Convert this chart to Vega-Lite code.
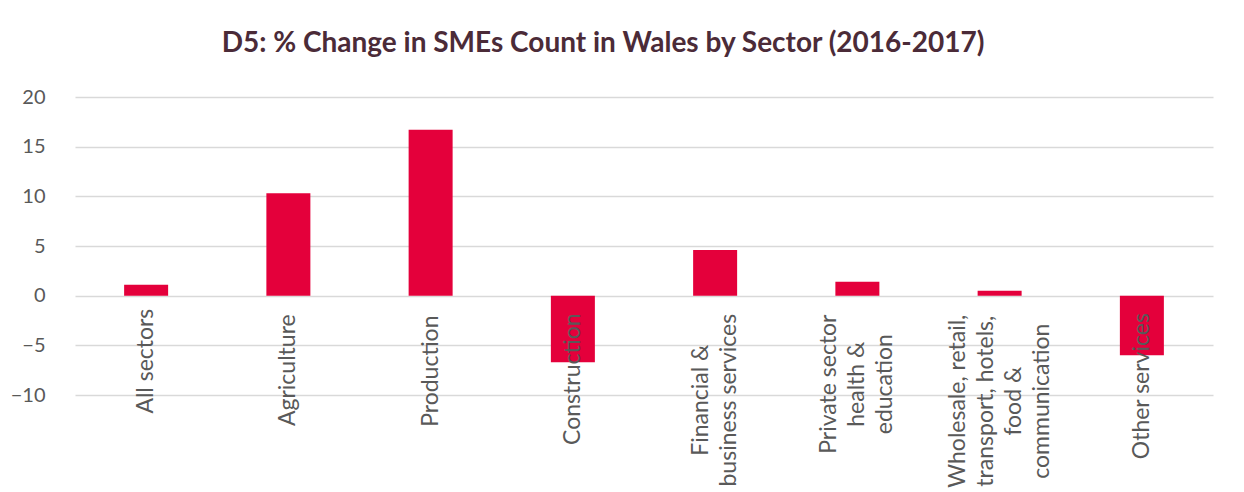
{
  "$schema": "https://vega.github.io/schema/vega-lite/v6.json",
  "autosize": "none",
  "width": 1138,
  "height": 298,
  "padding": {"left": 75, "top": 97, "right": 31, "bottom": 97},
  "background": "white",
  "title": {
    "text": "D5: % Change in SMEs Count in Wales by Sector (2016-2017)",
    "font": "Lato",
    "fontSize": 28,
    "fontWeight": "bold",
    "color": "#4B2B38",
    "anchor": "middle",
    "dx": -41,
    "offset": 29
  },
  "data": {
    "values": [
      {"sector": "All sectors", "change": 1.1},
      {"sector": "Agriculture", "change": 10.3},
      {"sector": "Production", "change": 16.7},
      {"sector": "Construction", "change": -6.7},
      {"sector": "Financial &\nbusiness services", "change": 4.6},
      {"sector": "Private sector\nhealth &\neducation", "change": 1.4},
      {"sector": "Wholesale, retail,\ntransport, hotels,\nfood &\ncommunication", "change": 0.5},
      {"sector": "Other services", "change": -6.0}
    ]
  },
  "mark": {"type": "bar", "color": "#E4003B", "width": 44},
  "encoding": {
    "x": {
      "field": "sector",
      "type": "nominal",
      "sort": null,
      "scale": {"paddingInner": 0, "paddingOuter": 0},
      "axis": {
        "title": null,
        "orient": "bottom",
        "offset": -99.33,
        "domain": false,
        "ticks": false,
        "labelAngle": -90,
        "labelAlign": "center",
        "labelBaseline": "middle",
        "labelPadding": {
          "condition": [
            {"test": "indexof(datum.value, 'All sectors') == 0", "value": 65},
            {"test": "indexof(datum.value, 'Agriculture') == 0", "value": 74},
            {"test": "indexof(datum.value, 'Production') == 0", "value": 75},
            {"test": "indexof(datum.value, 'Construction') == 0", "value": 83},
            {"test": "indexof(datum.value, 'Financial') == 0", "value": 104},
            {"test": "indexof(datum.value, 'Private') == 0", "value": 88},
            {"test": "indexof(datum.value, 'Wholesale') == 0", "value": 105},
            {"test": "indexof(datum.value, 'Other') == 0", "value": 90}
          ],
          "value": 70
        },
        "labelFont": "Lato",
        "labelFontSize": 23,
        "labelColor": "#595959",
        "labelLineHeight": 28,
        "labelExpr": "split(datum.label, '\\n')",
        "labelOffset": {
          "condition": [
            {"test": "length(split(datum.value, '\\n')) == 2", "value": -14},
            {"test": "length(split(datum.value, '\\n')) == 3", "value": -28},
            {"test": "length(split(datum.value, '\\n')) == 4", "value": -42}
          ],
          "value": 0
        },
        "labelOverlap": false,
        "labelLimit": 400,
        "zindex": 1
      }
    },
    "y": {
      "field": "change",
      "type": "quantitative",
      "scale": {"domain": [-10, 20], "nice": false},
      "axis": {
        "title": null,
        "values": [-10, -5, 0, 5, 10, 15, 20],
        "domain": false,
        "ticks": false,
        "labelPadding": 30,
        "labelFont": "Lato",
        "labelFontSize": 20,
        "labelColor": "#595959",
        "gridColor": "#D9D9D9",
        "gridWidth": 1.5
      }
    }
  },
  "config": {"view": {"stroke": null}}
}
